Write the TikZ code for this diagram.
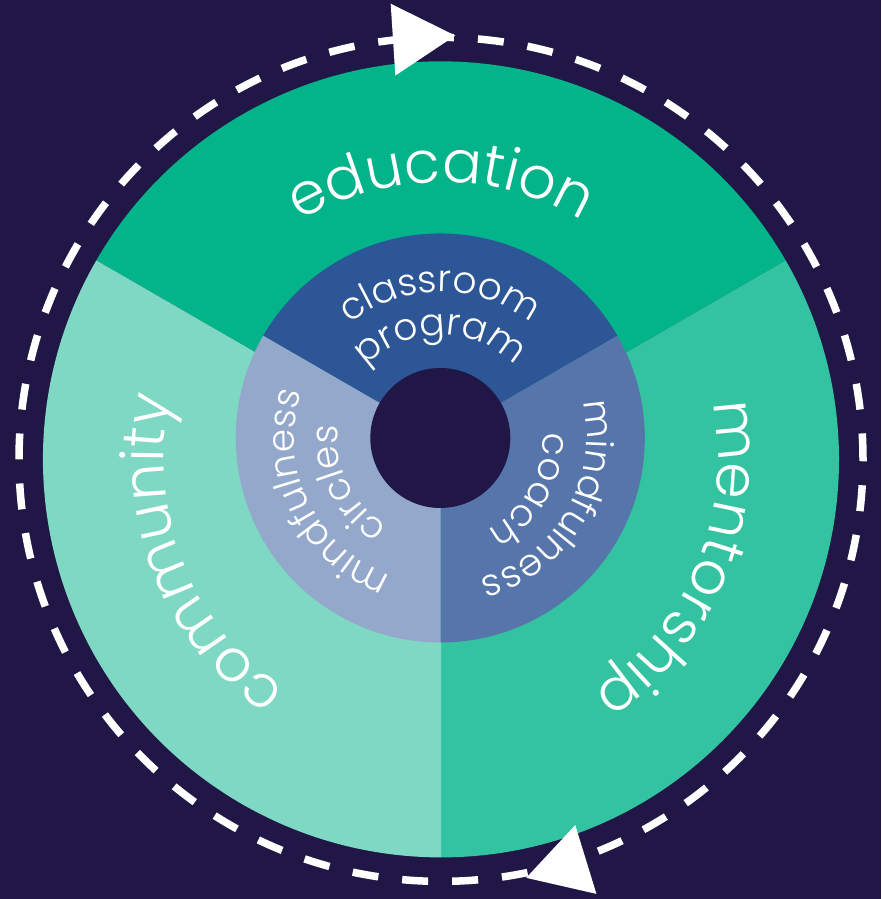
\documentclass[tikz,border=0pt]{standalone}
\usepackage{fontspec}
\usetikzlibrary{decorations.text}
\IfFontExistsTF{Poppins Light}
  {\newfontfamily\wheelfont{Poppins Light}}
  {\newfontfamily\wheelfont{Poppins}}
\definecolor{night}{HTML}{201747}
\definecolor{edugreen}{HTML}{03B48A}
\definecolor{mentorgreen}{HTML}{33C3A0}
\definecolor{commgreen}{HTML}{7FD8C3}
\definecolor{classblue}{HTML}{2D5697}
\definecolor{coachblue}{HTML}{5676AB}
\definecolor{circleblue}{HTML}{93A8CA}
\begin{document}
\begin{tikzpicture}[x=1pt,y=1pt,
  bigword/.style={decorate, decoration={text along path, text align=center,
      text color=white, text={|\wheelfont\fontsize{58.5}{60}\selectfont|#1}}},
  smallword/.style={decorate, decoration={text along path, text align=center,
      text color=white, text={|\wheelfont\fontsize{37.5}{40}\selectfont|#1}}},
  cycle line/.style={white, line width=7.5pt, dash pattern=on 26pt off 24pt},
  tiphead/.style={fill=white}]

% background and frame
\fill[night] (0,0) rectangle (881,899);
\useasboundingbox (0,0) rectangle (881,899);

\coordinate (O) at (441,439.6);   % centre of the outer wheel
\coordinate (I) at (440.3,461);   % centre of the inner ring

% dashed cycle around the wheel
\draw[cycle line] (O) circle[radius=422];

% outer wheel
\fill[edugreen, shift={(O)}] (0,0) -- (30:398) arc[start angle=30, end angle=150, radius=398] -- cycle;
\fill[mentorgreen, shift={(O)}] (0,0) -- (-90:398) arc[start angle=-90, end angle=30, radius=398] -- cycle;
\fill[commgreen, shift={(O)}] (0,0) -- (150:398) arc[start angle=150, end angle=270, radius=398] -- cycle;

% inner ring
\fill[classblue, shift={(I)}] (0,0) -- (30:204.5) arc[start angle=30, end angle=150, radius=204.5] -- cycle;
\fill[coachblue, shift={(I)}] (0,0) -- (-90:204.5) arc[start angle=-90, end angle=30, radius=204.5] -- cycle;
\fill[circleblue, shift={(I)}] (0,0) -- (150:204.5) arc[start angle=150, end angle=270, radius=204.5] -- cycle;
\fill[night] (I) circle[radius=70];

% arrow heads on the cycle, pointing clockwise
\begin{scope}[shift={(O)}, rotate=93.7]
  \fill[tiphead] (422,-41.6) -- (458,20.8) -- (386,20.8) -- cycle;
\end{scope}
\begin{scope}[shift={(O)}, rotate=-72.9]
  \fill[tiphead] (425,-41.6) -- (461,20.8) -- (389,20.8) -- cycle;
\end{scope}

% outer labels
\path[bigword=education, shift={(O)}] (150:277) arc[start angle=150, end angle=30, radius=277];
\path[bigword=mentorship, shift={(O)}] (37.5:277) arc[start angle=37.5, end angle=-82.5, radius=277];
\path[bigword=community, shift={(O)}] (261.5:277) arc[start angle=261.5, end angle=141.5, radius=277];

% inner labels
\path[smallword=classroom, shift={(I)}] (150:146) arc[start angle=150, end angle=30, radius=146];
\path[smallword=program, shift={(I)}] (150:103) arc[start angle=150, end angle=30, radius=103];
\path[smallword=mindfulness, shift={(I)}] (30:146) arc[start angle=30, end angle=-90, radius=146];
\path[smallword=coach, shift={(I)}] (30:103) arc[start angle=30, end angle=-90, radius=103];
\path[smallword=mindfulness, shift={(I)}] (266:146) arc[start angle=266, end angle=146, radius=146];
\path[smallword=circles, shift={(I)}] (266:103) arc[start angle=266, end angle=146, radius=103];
\end{tikzpicture}
\end{document}
